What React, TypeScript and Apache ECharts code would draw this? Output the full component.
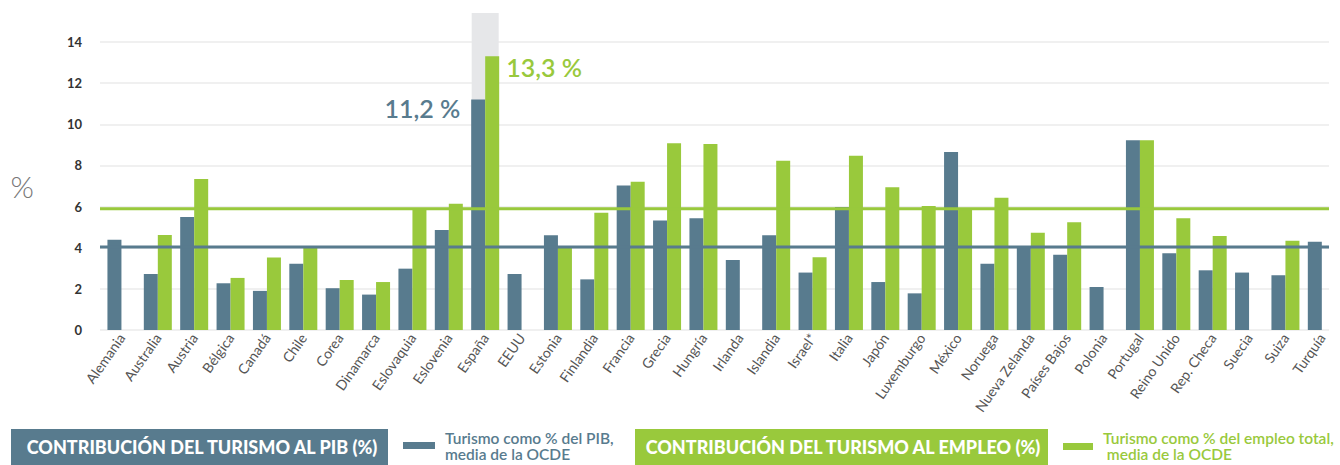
import React, { useEffect, useRef } from "react";
import * as echarts from "echarts";

const categories = [
  "Alemania", "Australia", "Austria", "Bélgica", "Canadá", "Chile", "Corea", "Dinamarca",
  "Eslovaquia", "Eslovenia", "España", "EEUU", "Estonia", "Finlandia", "Francia", "Grecia",
  "Hungría", "Irlanda", "Islandia", "Israel*", "Italia", "Japón", "Luxemburgo", "México",
  "Noruega", "Nueva Zelanda", "Países Bajos", "Polonia", "Portugal", "Reino Unido",
  "Rep. Checa", "Suecia", "Suiza", "Turquía",
];

// Tourism as % of GDP
const gdpShare: (number | null)[] = [
  4.38, 2.72, 5.49, 2.27, 1.9, 3.22, 2.03, 1.72,
  2.98, 4.86, 11.2, 2.72, 4.6, 2.46, 7.02, 5.32,
  5.43, 3.4, 4.6, 2.79, 5.97, 2.33, 1.78, 8.65,
  3.22, 4.05, 3.66, 2.09, 9.22, 3.73,
  2.9, 2.79, 2.66, 4.29,
];

// Tourism as % of total employment
const employmentShare: (number | null)[] = [
  null, 4.62, 7.33, 2.53, 3.52, 4.02, 2.43, 2.33,
  5.91, 6.13, 13.3, null, 4.02, 5.69, 7.2, 9.07,
  9.04, null, 8.22, 3.53, 8.46, 6.94, 6.03, 5.92,
  6.43, 4.73, 5.23, null, 9.22, 5.43,
  4.57, null, 4.33, null,
];

const gdpOecdMean = 4.04;
const employmentOecdMean = 5.9;

const yTicksMax = 14;
const yTickInterval = 2;

const highlightCategory = "España";
const highlightTop = 15.4;

const BLUE = "#587b8e";
const GREEN = "#99c93c";
const FONT = "Lato";

const fmt = (v: number) => `${v.toFixed(1).replace(".", ",")} %`;

export default function App() {
  const ref = useRef<HTMLDivElement>(null);

  useEffect(() => {
    if (!ref.current) return;
    const chart = echarts.init(ref.current, undefined, { renderer: "svg" });

    const hiIdx = categories.indexOf(highlightCategory);

    const gdpData = gdpShare.map((v, i) =>
      i === hiIdx && v != null
        ? {
            value: v,
            label: {
              show: true,
              formatter: fmt(v),
              position: [-11, 9],
              align: "right",
              verticalAlign: "middle",
              fontSize: 25,
              fontWeight: 600,
              fontFamily: FONT,
              color: BLUE,
            },
          }
        : v
    );
    const empData = employmentShare.map((v, i) =>
      i === hiIdx && v != null
        ? {
            value: v,
            label: {
              show: true,
              formatter: fmt(v),
              position: [21, 11],
              align: "left",
              verticalAlign: "middle",
              fontSize: 25,
              fontWeight: 600,
              fontFamily: FONT,
              color: GREEN,
            },
          }
        : v
    );
    const highlightData = categories.map((c) => (c === highlightCategory ? highlightTop : null));

    chart.setOption({
      animation: false,
      textStyle: { fontFamily: FONT },
      grid: [
        { left: 100, top: 42, width: 1229, height: 288 },
        { left: 103.25, top: 13, width: 1241, height: 317 },
      ],
      xAxis: [
        { gridIndex: 0, type: "value", min: 0, max: 1, show: false },
        {
          gridIndex: 1,
          type: "category",
          data: categories,
          axisLine: { show: false },
          axisTick: { show: false },
          axisLabel: {
            interval: 0,
            rotate: 55,
            margin: 5,
            color: "#555",
            fontSize: 14,
            fontFamily: FONT,
          },
        },
        { gridIndex: 1, type: "category", data: categories, show: false },
      ],
      yAxis: [
        {
          gridIndex: 0,
          type: "value",
          min: 0,
          max: yTicksMax,
          interval: yTickInterval,
          name: "%",
          nameLocation: "middle",
          nameRotate: 0,
          nameGap: 66,
          nameTextStyle: { fontSize: 30, color: "#777", fontWeight: 300, fontFamily: FONT },
          axisLine: { show: false },
          axisTick: { show: false },
          axisLabel: { margin: 18, color: "#333", fontWeight: "bold", fontSize: 13, fontFamily: FONT },
          splitLine: { show: true, lineStyle: { color: "#ebebeb", width: 1.5 } },
        },
        { gridIndex: 1, type: "value", min: 0, max: highlightTop, show: false },
      ],
      series: [
        {
          type: "bar",
          xAxisIndex: 2,
          yAxisIndex: 1,
          data: highlightData,
          barWidth: 27,
          silent: true,
          z: 1,
          itemStyle: { color: "#e6e7e9" },
        },
        {
          name: "PIB",
          type: "bar",
          xAxisIndex: 1,
          yAxisIndex: 1,
          data: gdpData,
          barWidth: 14,
          barGap: "0%",
          z: 2,
          itemStyle: { color: BLUE },
        },
        {
          name: "Empleo",
          type: "bar",
          xAxisIndex: 1,
          yAxisIndex: 1,
          data: empData,
          barWidth: 14,
          barGap: "0%",
          z: 2,
          itemStyle: { color: GREEN },
        },
        {
          type: "line",
          xAxisIndex: 0,
          yAxisIndex: 0,
          data: [[0, employmentOecdMean], [1, employmentOecdMean]],
          symbol: "none",
          silent: true,
          z: 5,
          lineStyle: { color: GREEN, width: 3 },
        },
        {
          type: "line",
          xAxisIndex: 0,
          yAxisIndex: 0,
          data: [[0, gdpOecdMean], [1, gdpOecdMean]],
          symbol: "none",
          silent: true,
          z: 5,
          lineStyle: { color: BLUE, width: 3 },
        },
      ],
      graphic: [
        { type: "rect", shape: { x: 11, y: 429, width: 377, height: 36 }, style: { fill: BLUE } },
        {
          type: "text",
          x: 202,
          y: 447,
          style: {
            text: "CONTRIBUCIÓN DEL TURISMO AL PIB (%)",
            fill: "#fff",
            font: `900 18px ${FONT}`,
            textAlign: "center",
            textVerticalAlign: "middle",
          },
        },
        { type: "rect", shape: { x: 403, y: 442, width: 32, height: 7 }, style: { fill: BLUE } },
        {
          type: "text",
          x: 445,
          y: 446,
          style: {
            text: "Turismo como % del PIB,\nmedia de la OCDE",
            fill: BLUE,
            font: `600 15.5px ${FONT}`,
            lineHeight: 16,
            textAlign: "left",
            textVerticalAlign: "middle",
          },
        },
        { type: "rect", shape: { x: 635, y: 429, width: 413, height: 36 }, style: { fill: GREEN } },
        {
          type: "text",
          x: 843,
          y: 447,
          style: {
            text: "CONTRIBUCIÓN DEL TURISMO AL EMPLEO (%)",
            fill: "#fff",
            font: `900 18px ${FONT}`,
            textAlign: "center",
            textVerticalAlign: "middle",
          },
        },
        { type: "rect", shape: { x: 1063, y: 443, width: 30, height: 7 }, style: { fill: GREEN } },
        {
          type: "text",
          x: 1103,
          y: 446,
          style: {
            text: "Turismo como % del empleo total,\n media de la OCDE",
            fill: GREEN,
            font: `600 15.5px ${FONT}`,
            lineHeight: 16,
            textAlign: "left",
            textVerticalAlign: "middle",
          },
        },
      ],
    });

    return () => chart.dispose();
  }, []);

  return (
    <div
      ref={ref}
      style={{ position: "fixed", left: 0, top: 0, width: 1340, height: 465, background: "#fff" }}
    />
  );
}
